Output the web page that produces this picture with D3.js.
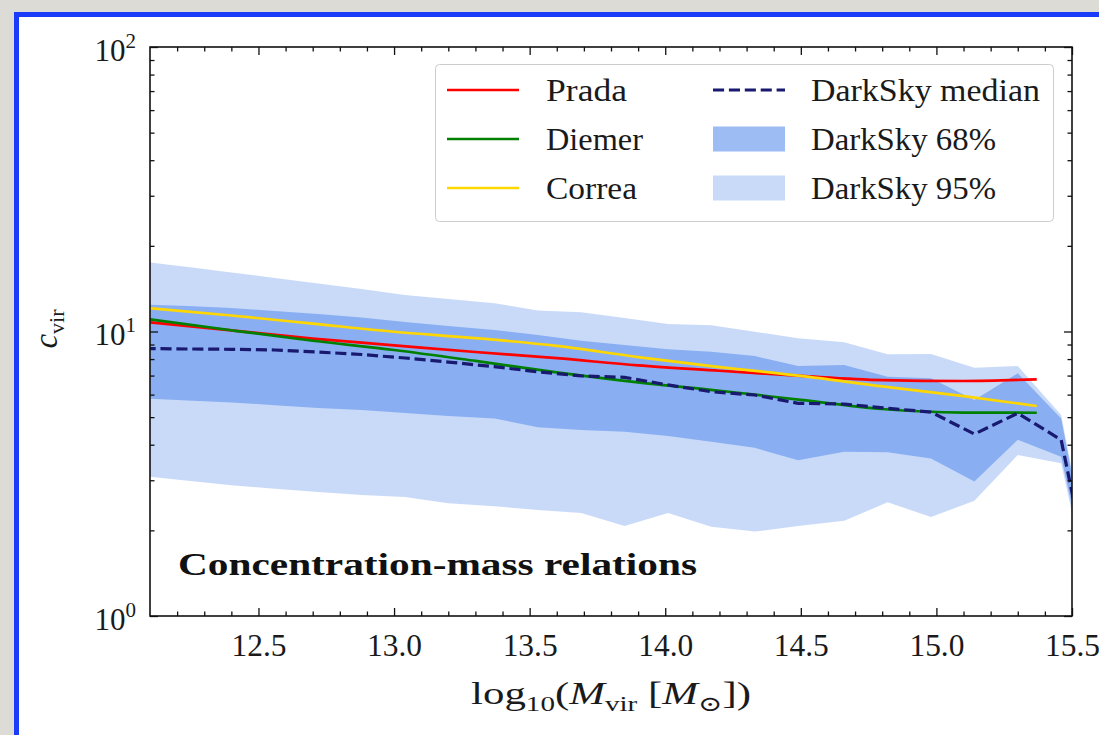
<!DOCTYPE html>
<html>
<head>
<meta charset="utf-8">
<script src="https://cdn.jsdelivr.net/npm/d3@7"></script>
<style>
  body { margin: 0; background: #dcdbd6; }
  svg { display: block; }
</style>
</head>
<body>
<svg id="chart" width="1099" height="735"></svg>
<script>
// ---- data -------------------------------------------------------------
// DarkSky halo bins (log10 Mvir) and concentration percentiles
const massBins = [12.08, 12.24, 12.40, 12.56, 12.72, 12.88, 13.04, 13.20, 13.37, 13.53, 13.69, 13.85,
                  14.01, 14.17, 14.33, 14.49, 14.66, 14.82, 14.98, 15.14, 15.30, 15.46, 15.62];
const darkskyMedian = [8.71, 8.68, 8.66, 8.61, 8.47, 8.30, 8.07, 7.81, 7.52, 7.22, 6.98, 6.90,
                       6.49, 6.14, 5.98, 5.59, 5.56, 5.37, 5.21, 4.36, 5.16, 4.16, 0.76];
const darksky68Lo = [5.81, 5.72, 5.63, 5.51, 5.38, 5.30, 5.17, 5.05, 4.95, 4.61, 4.51, 4.44,
                     4.29, 4.10, 3.90, 3.53, 3.78, 3.76, 3.58, 2.97, 4.16, 3.63, 0.73];
const darksky68Hi = [12.44, 12.29, 12.09, 11.80, 11.52, 11.20, 10.80, 10.45, 10.12, 9.72, 9.28, 8.96,
                     8.66, 8.49, 8.20, 7.56, 7.62, 6.94, 6.85, 5.74, 7.13, 4.95, 0.79];
const darksky95Lo = [3.10, 2.99, 2.88, 2.80, 2.73, 2.66, 2.62, 2.49, 2.43, 2.36, 2.30, 2.07,
                     2.30, 2.06, 1.98, 2.07, 2.16, 2.51, 2.23, 2.54, 3.68, 3.44, 0.70];
const darksky95Hi = [17.56, 16.86, 16.12, 15.42, 14.75, 14.11, 13.44, 13.01, 12.57, 11.85, 11.68, 11.15,
                     10.62, 10.51, 9.98, 9.46, 9.17, 8.32, 8.33, 7.46, 7.56, 5.09, 0.82];

// Analytic concentration-mass models
const modelMass = [12.1, 12.4, 12.7, 13.0, 13.3, 13.6, 13.9, 14.2, 14.5, 14.8, 15.1, 15.37];
const prada  = [10.77, 10.09, 9.44, 8.94, 8.47, 8.06, 7.60, 7.28, 6.98, 6.75, 6.70, 6.79];
const diemer = [11.04, 10.10, 9.28, 8.61, 7.88, 7.18, 6.62, 6.19, 5.75, 5.34, 5.19, 5.18];
const correa = [12.07, 11.38, 10.66, 9.98, 9.48, 8.90, 8.13, 7.50, 6.98, 6.41, 5.93, 5.47];

// Axis ticks
const xMajorTicks = [12.5, 13.0, 13.5, 14.0, 14.5, 15.0, 15.5];
const xMinorTicks = d3.range(122, 155).map(v => v / 10).filter(v => Math.abs(v * 2 - Math.round(v * 2)) > 1e-6);
const yMajorTicks = [1, 10, 100];
const yMinorTicks = [2, 3, 4, 5, 6, 7, 8, 9, 20, 30, 40, 50, 60, 70, 80, 90];
const yTickExponents = ["0", "1", "2"];

// ---- layout -----------------------------------------------------------
const FONT = "'Liberation Serif', 'DejaVu Serif', serif";
const plotLeft = 150, plotRight = 1072, plotTop = 47, plotBottom = 616;

const svg = d3.select("#chart");

// framed white panel
svg.append("rect").attr("x", 0).attr("y", 0).attr("width", 1099).attr("height", 735).attr("fill", "#dcdbd6");
svg.append("rect")
  .attr("x", 16.5).attr("y", 14.5).attr("width", 1200).attr("height", 800)
  .attr("fill", "#ffffff").attr("stroke", "#1a3cf8").attr("stroke-width", 5);

const x = d3.scaleLinear().domain([12.1, 15.5]).range([plotLeft, plotRight]);
const y = d3.scaleLog().domain([1, 100]).range([plotBottom, plotTop]);

svg.append("defs").append("clipPath").attr("id", "plot-clip")
  .append("rect").attr("x", plotLeft).attr("y", plotTop)
  .attr("width", plotRight - plotLeft).attr("height", plotBottom - plotTop);

const plot = svg.append("g").attr("clip-path", "url(#plot-clip)");

const bins = massBins.map((m, i) => ({
  m, med: darkskyMedian[i],
  lo68: darksky68Lo[i], hi68: darksky68Hi[i],
  lo95: darksky95Lo[i], hi95: darksky95Hi[i]
}));

const band = (lo, hi) => d3.area().x(d => x(d.m)).y0(d => y(d[lo])).y1(d => y(d[hi]));

plot.append("path").datum(bins).attr("d", band("lo95", "hi95"))
  .attr("fill", "#6495ed").attr("fill-opacity", 0.35);
plot.append("path").datum(bins).attr("d", band("lo68", "hi68"))
  .attr("fill", "#6495ed").attr("fill-opacity", 0.63);

const modelLine = d3.line().x(d => x(d[0])).y(d => y(d[1])).curve(d3.curveMonotoneX);
const models = [
  { name: "Prada", values: prada, color: "#ff0000" },
  { name: "Diemer", values: diemer, color: "#008000" },
  { name: "Correa", values: correa, color: "#ffd700" }
];
models.forEach(mdl => {
  plot.append("path")
    .datum(modelMass.map((m, i) => [m, mdl.values[i]]))
    .attr("d", modelLine)
    .attr("fill", "none").attr("stroke", mdl.color).attr("stroke-width", 2.7);
});

plot.append("path").datum(bins)
  .attr("d", d3.line().x(d => x(d.m)).y(d => y(d.med)))
  .attr("fill", "none").attr("stroke", "#191970").attr("stroke-width", 3.2)
  .attr("stroke-dasharray", "11.1 4.8");

// ---- axes -------------------------------------------------------------
function ticks(axisFn, scale, values, size, transform) {
  const g = svg.append("g").attr("transform", transform)
    .call(axisFn(scale).tickValues(values).tickSize(size).tickFormat(""));
  g.select(".domain").remove();
  g.selectAll(".tick line").attr("stroke", "#111").attr("stroke-width", 1.3);
  g.selectAll(".tick text").remove();
  return g;
}
ticks(d3.axisTop, x, xMinorTicks, -4.5, `translate(0,${plotTop})`);
ticks(d3.axisTop, x, xMajorTicks, -8, `translate(0,${plotTop})`);
ticks(d3.axisBottom, x, xMinorTicks, -4.5, `translate(0,${plotBottom})`);
ticks(d3.axisLeft, y, yMinorTicks, -4.5, `translate(${plotLeft},0)`);
ticks(d3.axisRight, y, yMinorTicks, -4.5, `translate(${plotRight},0)`);
ticks(d3.axisRight, y, yMajorTicks, -8, `translate(${plotRight},0)`);

// bottom axis with labels
const xAxisG = svg.append("g").attr("transform", `translate(0,${plotBottom})`)
  .call(d3.axisBottom(x).tickValues(xMajorTicks).tickSize(-8).tickPadding(18).tickFormat(d3.format(".1f")));
xAxisG.select(".domain").remove();
xAxisG.selectAll(".tick line").attr("stroke", "#111").attr("stroke-width", 1.3);
xAxisG.selectAll(".tick text")
  .attr("font-family", FONT).attr("font-size", 31).attr("fill", "#1a1a1a")
  .attr("textLength", 55).attr("lengthAdjust", "spacingAndGlyphs");

// left axis with 10^n labels
const yAxisG = svg.append("g").attr("transform", `translate(${plotLeft},0)`)
  .call(d3.axisLeft(y).tickValues(yMajorTicks).tickSize(-8).tickPadding(14).tickFormat(""));
yAxisG.select(".domain").remove();
yAxisG.selectAll(".tick line").attr("stroke", "#111").attr("stroke-width", 1.3);
yAxisG.selectAll(".tick text").each(function (d, i) {
  const t = d3.select(this)
    .attr("font-family", FONT).attr("font-size", 31).attr("fill", "#1a1a1a")
    .attr("dy", 13).text(null);
  t.append("tspan").text("10");
  t.append("tspan").attr("font-size", 21).attr("dy", -13).text(yTickExponents[i]);
});

// plot frame
svg.append("rect")
  .attr("x", plotLeft).attr("y", plotTop).attr("width", plotRight - plotLeft).attr("height", plotBottom - plotTop)
  .attr("fill", "none").attr("stroke", "#111").attr("stroke-width", 1.6);

// axis titles
const xTitle = svg.append("text")
  .attr("x", (plotLeft + plotRight) / 2).attr("y", 704).attr("text-anchor", "middle")
  .attr("font-family", FONT).attr("font-size", 31).attr("fill", "#1a1a1a")
  .attr("textLength", 280).attr("lengthAdjust", "spacingAndGlyphs");
xTitle.append("tspan").text("log");
xTitle.append("tspan").attr("font-size", 21).attr("dy", 7).text("10");
xTitle.append("tspan").attr("dy", -7).text("(");
xTitle.append("tspan").attr("font-style", "italic").text("M");
xTitle.append("tspan").attr("font-size", 21).attr("dy", 7).text("vir");
xTitle.append("tspan").attr("dy", -7).text(" [");
xTitle.append("tspan").attr("font-style", "italic").text("M");
xTitle.append("tspan").attr("font-size", 21).attr("dy", 7).text("\u2299");
xTitle.append("tspan").attr("dy", -7).text("])");

const yTitle = svg.append("text")
  .attr("transform", "translate(57,329) rotate(-90)").attr("text-anchor", "middle")
  .attr("font-family", FONT).attr("font-size", 33).attr("fill", "#1a1a1a");
yTitle.append("tspan").attr("font-style", "italic").text("c");
yTitle.append("tspan").attr("font-size", 22).attr("dy", 7).text("vir");

// panel caption
svg.append("text")
  .attr("x", 178).attr("y", 575)
  .attr("font-family", FONT).attr("font-size", 31).attr("font-weight", "bold").attr("fill", "#111")
  .attr("textLength", 519).attr("lengthAdjust", "spacingAndGlyphs")
  .text("Concentration-mass relations");

// ---- legend -----------------------------------------------------------
const legend = svg.append("g");
legend.append("rect")
  .attr("x", 435.5).attr("y", 64.5).attr("width", 618).attr("height", 157).attr("rx", 4)
  .attr("fill", "#ffffff").attr("fill-opacity", 0.85).attr("stroke", "#cccccc").attr("stroke-width", 1);

const legendRows = [90, 139, 188];
const legendEntries = [
  { label: "Prada", col: 0, row: 0, kind: "line", color: "#ff0000", width: 81 },
  { label: "Diemer", col: 0, row: 1, kind: "line", color: "#008000", width: 97 },
  { label: "Correa", col: 0, row: 2, kind: "line", color: "#ffd700", width: 91 },
  { label: "DarkSky median", col: 1, row: 0, kind: "dash", color: "#191970", width: 229 },
  { label: "DarkSky 68%", col: 1, row: 1, kind: "patch", opacity: 0.63, width: 185 },
  { label: "DarkSky 95%", col: 1, row: 2, kind: "patch", opacity: 0.35, width: 185 }
];
const colX = [447, 713];
const textX = [546, 811];
legendEntries.forEach(e => {
  const cy = legendRows[e.row], x0 = colX[e.col];
  if (e.kind === "line") {
    legend.append("line").attr("x1", x0).attr("x2", x0 + 72).attr("y1", cy).attr("y2", cy)
      .attr("stroke", e.color).attr("stroke-width", 2.6);
  } else if (e.kind === "dash") {
    legend.append("line").attr("x1", x0).attr("x2", x0 + 72).attr("y1", cy).attr("y2", cy)
      .attr("stroke", e.color).attr("stroke-width", 3.2).attr("stroke-dasharray", "11.1 4.8");
  } else {
    legend.append("rect").attr("x", x0).attr("y", cy - 12.5).attr("width", 72).attr("height", 25)
      .attr("fill", "#6495ed").attr("fill-opacity", e.opacity);
  }
  legend.append("text")
    .attr("x", textX[e.col]).attr("y", cy + 11)
    .attr("font-family", FONT).attr("font-size", 31).attr("fill", "#1a1a1a")
    .attr("textLength", e.width).attr("lengthAdjust", "spacingAndGlyphs")
    .text(e.label);
});
</script>
</body>
</html>
